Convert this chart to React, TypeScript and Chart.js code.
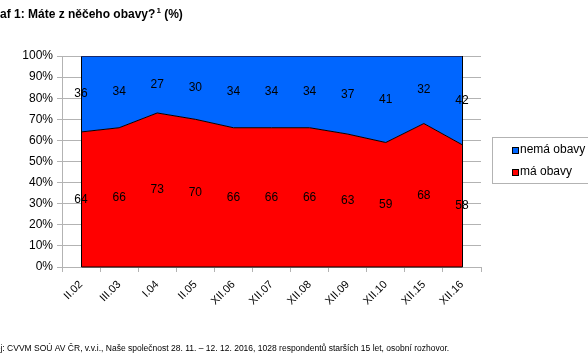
import React, { useEffect, useRef } from "react";
import { Chart, registerables } from "chart.js";

Chart.register(...registerables);

const categories = ["II.02", "III.03", "I.04", "II.05", "XII.06", "XII.07", "XII.08", "XII.09", "XII.10", "XII.15", "XII.16"];
const maObavy = [64, 66, 73, 70, 66, 66, 66, 63, 59, 68, 58];
const nemaObavy = [36, 34, 27, 30, 34, 34, 34, 37, 41, 32, 42];
const yTicks = [0, 10, 20, 30, 40, 50, 60, 70, 80, 90, 100];
const titleMain = "Graf 1: Máte z něčeho obavy?";
const titleSup = "1";
const titleTail = " (%)";
const footnote = "Zdroj: CVVM SOÚ AV ČR, v.v.i., Naše společnost 28. 11. – 12. 12. 2016, 1028 respondentů starších 15 let, osobní rozhovor.";

const FONT = "'Liberation Sans', Arial, sans-serif";
const RED = "#ff0000";
const BLUE = "#0066ff";

const decorPlugin = {
  id: "decor",
  afterDatasetsDraw(chart: any) {
    const { ctx, scales } = chart;
    const x = scales.x;
    const y = scales.y;
    const x0 = x.getPixelForValue(0);
    const x1 = x.getPixelForValue(categories.length - 1);
    const yb = y.getPixelForValue(0);
    const yt = y.getPixelForValue(100);
    ctx.save();
    ctx.strokeStyle = "#000";
    ctx.lineWidth = 1;
    ctx.beginPath();
    ctx.moveTo(Math.round(x0) + 0.5, yt);
    ctx.lineTo(Math.round(x0) + 0.5, yb);
    ctx.lineTo(Math.round(x1) + 0.5, yb);
    ctx.lineTo(Math.round(x1) + 0.5, yt);
    ctx.stroke();
    ctx.strokeStyle = "#1a2a6a";
    ctx.beginPath();
    ctx.moveTo(x0, Math.round(yt) + 0.5);
    ctx.lineTo(x1, Math.round(yt) + 0.5);
    ctx.stroke();

    // data labels
    ctx.fillStyle = "#000";
    ctx.font = `12px ${FONT}`;
    ctx.textAlign = "center";
    ctx.textBaseline = "middle";
    categories.forEach((_, i) => {
      const px = x.getPixelForValue(i);
      const r = maObavy[i];
      const b = nemaObavy[i];
      ctx.fillText(String(r), px, y.getPixelForValue(r / 2));
      ctx.fillText(String(b), px, y.getPixelForValue(r + b / 2));
    });
    ctx.restore();
  },
  afterDraw(chart: any) {
    const { ctx } = chart;
    ctx.save();
    // title
    ctx.fillStyle = "#000";
    ctx.textBaseline = "alphabetic";
    ctx.textAlign = "left";
    ctx.font = `bold 12px ${FONT}`;
    let tx = -14;
    ctx.fillText(titleMain, tx, 18);
    tx += ctx.measureText(titleMain).width + 1;
    ctx.font = `bold 8px ${FONT}`;
    ctx.fillText(titleSup, tx, 13);
    tx += ctx.measureText(titleSup).width;
    ctx.font = `bold 12px ${FONT}`;
    ctx.fillText(titleTail, tx, 18);

    // footnote
    ctx.font = `8.5px ${FONT}`;
    ctx.fillText(footnote, -17, 351);

    // legend
    ctx.strokeStyle = "#b3b3b3";
    ctx.lineWidth = 1;
    ctx.strokeRect(492.5, 137.5, 120, 46);
    const items = [
      { label: chart.data.datasets[1].label, color: BLUE, y: 150 },
      { label: chart.data.datasets[0].label, color: RED, y: 172 },
    ];
    ctx.font = `12px ${FONT}`;
    ctx.textBaseline = "middle";
    items.forEach((it) => {
      ctx.fillStyle = it.color;
      ctx.fillRect(512, it.y - 3, 6, 6);
      ctx.strokeStyle = "#000";
      ctx.strokeRect(512.5, it.y - 2.5, 6, 6);
      ctx.fillStyle = "#000";
      ctx.fillText(it.label, 520, it.y);
    });
    ctx.restore();
  },
};

export default function App() {
  const ref = useRef<HTMLCanvasElement | null>(null);
  useEffect(() => {
    if (!ref.current) return;
    const chart = new Chart(ref.current, {
      type: "line",
      data: {
        labels: categories,
        datasets: [
          {
            label: "má obavy",
            data: maObavy,
            backgroundColor: RED,
            borderColor: "#000",
            borderWidth: 1,
            fill: "origin",
            pointRadius: 0,
            tension: 0,
          },
          {
            label: "nemá obavy",
            data: nemaObavy,
            backgroundColor: BLUE,
            borderColor: "rgba(0,0,0,0)",
            borderWidth: 0,
            fill: "-1",
            pointRadius: 0,
            tension: 0,
          },
        ],
      },
      plugins: [decorPlugin],
      options: {
        responsive: false,
        animation: false,
        layout: { padding: { left: 0, top: 56, right: 107, bottom: 0 } },
        plugins: {
          legend: { display: false },
          title: { display: false },
          tooltip: { enabled: false },
        },
        scales: {
          x: {
            type: "category",
            offset: true,
            grid: {
              offset: true,
              drawOnChartArea: false,
              drawTicks: true,
              tickLength: 5,
              color: "#b3b3b3",
            },
            border: { color: "#b3b3b3" },
            ticks: {
              color: "#000",
              font: { family: FONT, size: 11 },
              maxRotation: 45,
              minRotation: 45,
              autoSkip: false,
              padding: 6,
            },
            afterFit(scale: any) {
              scale.height = 96;
            },
          },
          y: {
            stacked: true,
            min: 0,
            max: 100,
            afterBuildTicks(scale: any) {
              scale.ticks = yTicks.map((v) => ({ value: v }));
            },
            grid: {
              color: "#b3b3b3",
              tickLength: 5,
            },
            border: { color: "#b3b3b3" },
            ticks: {
              color: "#000",
              font: { family: FONT, size: 12 },
              padding: 4,
              callback: (v: any) => `${v}%`,
            },
            afterFit(scale: any) {
              scale.width = 62;
            },
          },
        },
      },
    } as any);
    return () => chart.destroy();
  }, []);
  return (
    <div style={{ position: "fixed", left: 0, top: 0, width: 588, height: 363, background: "#fff" }}>
      <canvas ref={ref} width={588} height={363} style={{ width: 588, height: 363 }} />
    </div>
  );
}
